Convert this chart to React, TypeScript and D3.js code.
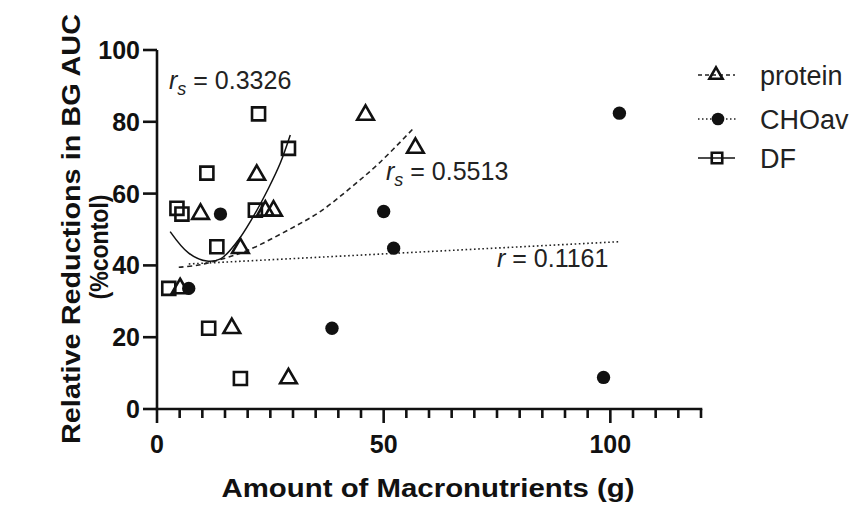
import React from "react";
import * as d3 from "d3";

// ---- data ----
const proteinX = [5.1, 9.6, 16.5, 18.4, 22, 23.9, 25.7, 29, 46, 57];
const proteinY = [33.6, 54.3, 22.5, 44.8, 65.2, 55.2, 55.2, 8.5, 81.9, 72.7];

const choX = [7, 14, 38.6, 50, 52.2, 98.5, 102];
const choY = [33.6, 54.3, 22.5, 55, 44.8, 8.8, 82.4];

const dfX = [2.6, 4.4, 5.5, 11, 11.4, 13.2, 18.4, 21.7, 22.4, 29];
const dfY = [33.6, 55.9, 54.3, 65.7, 22.5, 45.2, 8.5, 55.4, 82.2, 72.6];

// fitted curves
const dfFitX = [2.9, 7, 11, 14, 17.6, 21, 24.6, 27.2, 29.4];
const dfFitY = [49.4, 43.4, 41.2, 41.8, 46.5, 53.1, 61.5, 68.5, 76.3];
const proteinFitX = [4.8, 9.2, 15, 20.2, 29, 36, 42.6, 49, 56.6];
const proteinFitY = [39.5, 40.1, 42, 44.3, 49.9, 55, 61.5, 68.5, 78.2];
const choFitX = [7, 102];
const choFitY = [40.4, 46.6];

const xMajorTicks = [0, 50, 100];
const xMinorTicks = d3.range(0, 121, 5);
const yTicks = [0, 20, 40, 60, 80, 100];

const legendLabels = ["protein", "CHOav", "DF"];

const FONT = "'Liberation Sans', Arial, Helvetica, sans-serif";

export default function App() {
  const x = d3.scaleLinear().domain([0, 120]).range([157, 701]);
  const y = d3.scaleLinear().domain([0, 100]).range([409, 50]);

  const triSym = d3.symbol().type(d3.symbolTriangle).size(120)();
  const sqSym = d3.symbol().type(d3.symbolSquare).size(170)();
  const cirSym = d3.symbol().type(d3.symbolCircle).size(140)();
  const triSymL = d3.symbol().type(d3.symbolTriangle).size(75)();
  const sqSymL = d3.symbol().type(d3.symbolSquare).size(110)();
  const cirSymL = d3.symbol().type(d3.symbolCircle).size(125)();

  const line = d3
    .line<[number, number]>()
    .x((d) => x(d[0]))
    .y((d) => y(d[1]))
    .curve(d3.curveCatmullRom.alpha(0.5));

  const dfFit = line(dfFitX.map((v, i) => [v, dfFitY[i]]));
  const protFit = line(proteinFitX.map((v, i) => [v, proteinFitY[i]]));
  const choFit = line(choFitX.map((v, i) => [v, choFitY[i]]));

  const legendY = [75, 119, 158];
  const legendText = [85, 129, 168];

  return (
    <svg
      width={854}
      height={506}
      style={{ position: "absolute", left: 0, top: 0, background: "#fff" }}
      fontFamily={FONT}
    >
      <rect x={0} y={0} width={854} height={506} fill="#fff" />
      {/* fit lines */}
      <path d={choFit || ""} fill="none" stroke="#222" strokeWidth={1.6} strokeDasharray="1.6,2.6" />
      <path d={protFit || ""} fill="none" stroke="#222" strokeWidth={1.6} strokeDasharray="5,3.5" />
      <path d={dfFit || ""} fill="none" stroke="#111" strokeWidth={1.5} />

      {/* axes */}
      <line x1={x(0)} x2={x(0)} y1={y(100)} y2={y(0)} stroke="#111" strokeWidth={2.6} />
      <line x1={x(0) - 1.3} x2={x(120) + 1.3} y1={y(0)} y2={y(0)} stroke="#111" strokeWidth={2.6} />
      {yTicks.map((t) => (
        <g key={"yt" + t}>
          <line x1={x(0) - 14} x2={x(0)} y1={y(t)} y2={y(t)} stroke="#111" strokeWidth={2.6} />
          <text
            x={x(0) - 17}
            y={y(t)}
            dy="0.36em"
            textAnchor="end"
            fontSize={25}
            fontWeight="bold"
            fill="#111"
          >
            {t}
          </text>
        </g>
      ))}
      {xMinorTicks.map((t) => (
        <line
          key={"xm" + t}
          x1={x(t)}
          x2={x(t)}
          y1={y(0)}
          y2={y(0) + (xMajorTicks.includes(t) ? 14 : 9)}
          stroke="#111"
          strokeWidth={2.6}
        />
      ))}
      {xMajorTicks.map((t) => (
        <text
          key={"xl" + t}
          x={x(t)}
          y={453}
          textAnchor="middle"
          fontSize={25}
          fontWeight="bold"
          fill="#111"
        >
          {t}
        </text>
      ))}

      {/* axis titles */}
      <text
        x={428}
        y={497}
        textAnchor="middle"
        fontSize={26}
        fontWeight="bold"
        fill="#111"
        textLength={413}
        lengthAdjust="spacingAndGlyphs"
      >
        Amount of Macronutrients (g)
      </text>
      <text
        transform="translate(80,229) rotate(-90)"
        textAnchor="middle"
        fontSize={26}
        fontWeight="bold"
        fill="#111"
        textLength={430}
        lengthAdjust="spacingAndGlyphs"
      >
        Relative Reductions in BG AUC
      </text>
      <text
        transform="translate(108,247) rotate(-90)"
        textAnchor="middle"
        fontSize={26}
        fontWeight="bold"
        fill="#111"
        textLength={105}
        lengthAdjust="spacingAndGlyphs"
      >
        (%contol)
      </text>

      {/* points */}
      {dfX.map((v, i) => (
        <path
          key={"df" + i}
          d={sqSym || ""}
          transform={`translate(${x(v)},${y(dfY[i])})`}
          fill="none"
          stroke="#111"
          strokeWidth={2.6}
        />
      ))}
      {proteinX.map((v, i) => (
        <path
          key={"pr" + i}
          d={triSym || ""}
          transform={`translate(${x(v)},${y(proteinY[i])})`}
          fill="none"
          stroke="#111"
          strokeWidth={2.6}
          strokeLinejoin="miter"
        />
      ))}
      {choX.map((v, i) => (
        <path
          key={"ch" + i}
          d={cirSym || ""}
          transform={`translate(${x(v)},${y(choY[i])})`}
          fill="#111"
        />
      ))}

      {/* annotations */}
      <text x={169} y={89} fontSize={25} fill="#222">
        <tspan fontStyle="italic">r</tspan>
        <tspan fontStyle="italic" fontSize={18} dy={6}>s</tspan>
        <tspan dy={-6}> = 0.3326</tspan>
      </text>
      <text x={386} y={180} fontSize={25} fill="#222">
        <tspan fontStyle="italic">r</tspan>
        <tspan fontStyle="italic" fontSize={18} dy={6}>s</tspan>
        <tspan dy={-6}> = 0.5513</tspan>
      </text>
      <text x={497} y={267} fontSize={25} fill="#222">
        <tspan fontStyle="italic">r</tspan>
        <tspan> = 0.1161</tspan>
      </text>

      {/* legend */}
      <line x1={698} x2={735} y1={legendY[0]} y2={legendY[0]} stroke="#222" strokeWidth={1.6} strokeDasharray="4,3" />
      <path d={triSymL || ""} transform={`translate(716,${legendY[0]})`} fill="none" stroke="#111" strokeWidth={2.6} />
      <line x1={698} x2={738} y1={legendY[1]} y2={legendY[1]} stroke="#222" strokeWidth={1.6} strokeDasharray="1.5,2.5" />
      <path d={cirSymL || ""} transform={`translate(718,${legendY[1]})`} fill="#111" />
      <line x1={698} x2={735} y1={legendY[2]} y2={legendY[2]} stroke="#111" strokeWidth={1.6} />
      <path d={sqSymL || ""} transform={`translate(717,${legendY[2]})`} fill="none" stroke="#111" strokeWidth={2.6} />
      {legendLabels.map((l, i) => (
        <text key={l} x={760} y={legendText[i]} fontSize={27} fill="#222">
          {l}
        </text>
      ))}
    </svg>
  );
}
